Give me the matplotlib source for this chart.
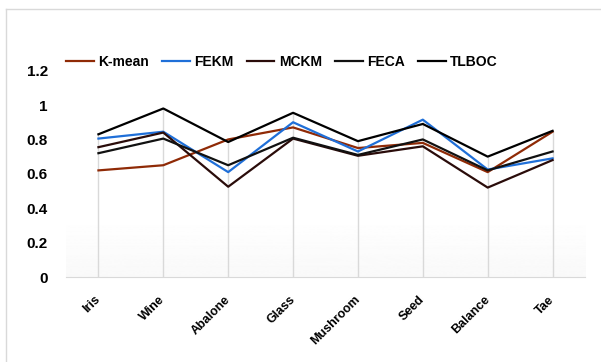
import matplotlib.pyplot as plt
import numpy as np

plt.rcParams["font.family"] = ["Liberation Sans", "DejaVu Sans"]

# datasets and clustering accuracy per method
datasets = ["Iris", "Wine", "Abalone", "Glass", "Mushroom", "Seed", "Balance", "Tae"]
kmean = [0.62, 0.65, 0.80, 0.87, 0.75, 0.78, 0.61, 0.845]
fekm = [0.805, 0.845, 0.61, 0.90, 0.73, 0.915, 0.625, 0.69]
mckm = [0.755, 0.84, 0.525, 0.805, 0.705, 0.76, 0.52, 0.68]
feca = [0.72, 0.805, 0.65, 0.81, 0.71, 0.80, 0.62, 0.73]
tlboc = [0.83, 0.98, 0.785, 0.955, 0.79, 0.89, 0.70, 0.85]

series = [("K-mean", kmean, "#8f2a06"),
          ("FEKM", fekm, "#1f6fd8"),
          ("MCKM", mckm, "#2a0c0a"),
          ("FECA", feca, "#111111"),
          ("TLBOC", tlboc, "#000000")]

fig = plt.figure(figsize=(6.01, 3.62), dpi=100)
ax = fig.add_axes([0.1098, 0.2348, 0.8636, 0.570])

x = np.arange(len(datasets))

# faint shading near the bottom of the plot area
grad = np.linspace(0.976, 1.0, 64).reshape(-1, 1)
ax.imshow(grad, extent=[-0.5, len(datasets) - 0.5, 0, 0.36], origin="lower",
          cmap="gray", vmin=0, vmax=1, aspect="auto", zorder=0)

# drop lines from the highest value down to zero
tops = np.max([s[1] for s in series], axis=0)
ax.vlines(x, 0, tops, color="#d9d9d9", lw=1, zorder=1)

for name, vals, col in series:
    ax.plot(x, vals, color=col, lw=1.6, label=name, zorder=3)

ax.set_xlim(-0.5, len(datasets) - 0.5)
ax.set_ylim(0, 1.2)
ax.set_yticks([0, 0.2, 0.4, 0.6, 0.8, 1.0, 1.2])
ax.set_yticklabels(["0", "0.2", "0.4", "0.6", "0.8", "1", "1.2"],
                   fontweight="bold", fontsize=11)
ax.set_xticks(x)
ax.set_xticklabels(datasets, rotation=45, ha="right", va="center",
                   rotation_mode="anchor", fontweight="bold", fontsize=9)
ax.tick_params(axis="y", length=0, pad=13)
ax.tick_params(axis="x", length=0, pad=15)

for s in ["top", "right", "left"]:
    ax.spines[s].set_visible(False)
ax.spines["bottom"].set_color("#d9d9d9")

fig.legend(loc="center", bbox_to_anchor=(0.469, 0.829), ncol=5, frameon=False,
           prop={"weight": "bold", "size": 10}, handlelength=2.0,
           handletextpad=0.3, columnspacing=0.95)

# outer chart border (left and top edges)
fig.add_artist(plt.Line2D([0.0095, 0.0095], [0, 0.975], color="#d9d9d9", lw=1))
fig.add_artist(plt.Line2D([0.0095, 1], [0.975, 0.975], color="#d9d9d9", lw=1))

fig.savefig("out.png", dpi=100)
